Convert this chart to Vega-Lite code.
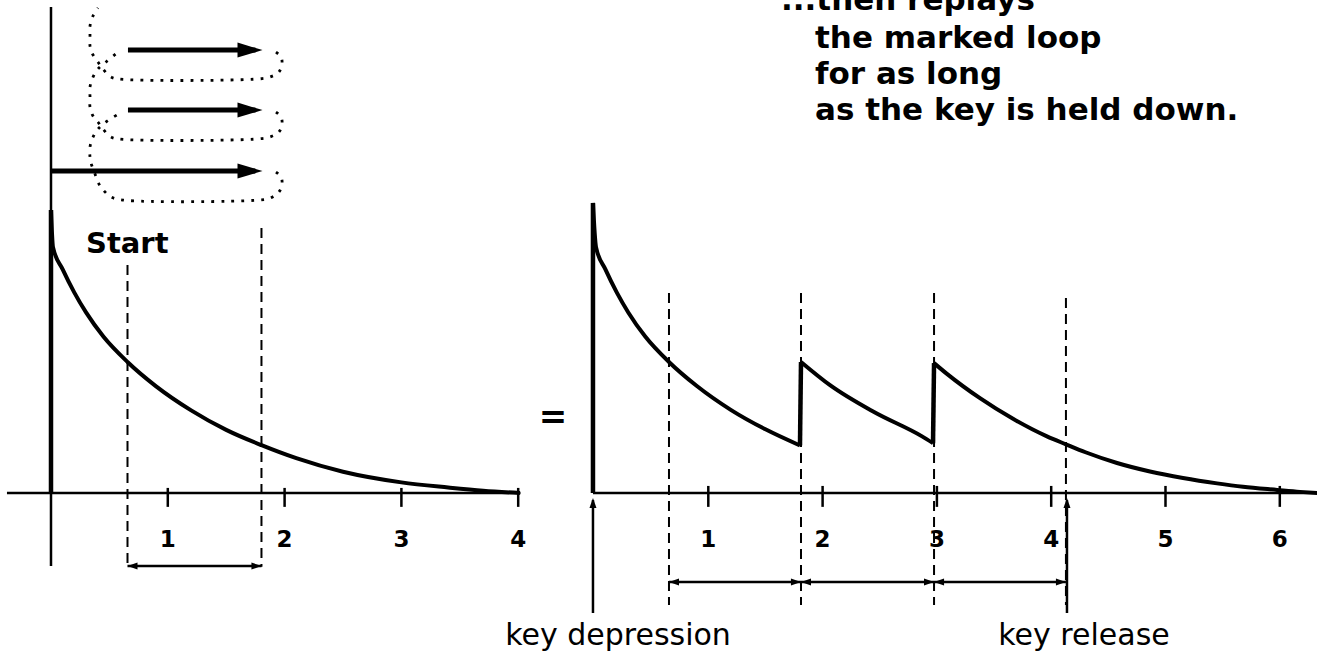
{
  "$schema": "https://vega.github.io/schema/vega-lite/v6.json",
  "width": 1317,
  "height": 655,
  "autosize": "none",
  "padding": 0,
  "background": "white",
  "config": {"view": {"stroke": null}},
  "datasets": {
    "leftAxes": [
      {"t": 0, "a": -0.258, "t2": 0, "a2": 1.717},
      {"t": -0.377, "a": 0, "t2": 4.02, "a2": 0},
      {"t": 1, "a": 0.018, "t2": 1, "a2": -0.049},
      {"t": 2, "a": 0.018, "t2": 2, "a2": -0.049},
      {"t": 3, "a": 0.018, "t2": 3, "a2": -0.049},
      {"t": 4, "a": 0.018, "t2": 4, "a2": -0.049},
      {"t": 0.655, "a": -0.258, "t2": 1.802, "a2": -0.258}
    ],
    "leftRise": [{"t": 0, "a": 0, "t2": 0, "a2": 1.0}],
    "leftDashes": [
      {"t": 0.655, "a": 0.806, "t2": 0.655, "a2": -0.261},
      {"t": 1.802, "a": 0.936, "t2": 1.802, "a2": -0.261}
    ],
    "leftDecay": [
      {"t": 0, "a": 1.0}, {"t": 0.017, "a": 0.869}, {"t": 0.1, "a": 0.79},
      {"t": 0.2, "a": 0.708}, {"t": 0.3, "a": 0.638}, {"t": 0.45, "a": 0.552},
      {"t": 0.655, "a": 0.463}, {"t": 0.9, "a": 0.377}, {"t": 1.2, "a": 0.292},
      {"t": 1.5, "a": 0.223}, {"t": 1.802, "a": 0.169}, {"t": 2.1, "a": 0.123},
      {"t": 2.5, "a": 0.075}, {"t": 3.0, "a": 0.0375}, {"t": 3.4, "a": 0.0195},
      {"t": 3.7, "a": 0.008}, {"t": 4.015, "a": 0}
    ],
    "leftHeadsL": [{"t": 0.698, "a": -0.258}],
    "leftHeadsR": [{"t": 1.759, "a": -0.258}],
    "loopShafts": [
      {"t": 0.659, "a": 1.565, "t2": 1.75, "a2": 1.565},
      {"t": 0.659, "a": 1.353, "t2": 1.75, "a2": 1.353},
      {"t": 0, "a": 1.138, "t2": 1.75, "a2": 1.138}
    ],
    "loopHeads": [
      {"t": 1.704, "a": 1.565}, {"t": 1.704, "a": 1.353}, {"t": 1.704, "a": 1.138}
    ],
    "loopDots": [
      {"path": "A", "i": 0, "t": 1.926, "a": 1.134},
      {"path": "A", "i": 1, "t": 1.969, "a": 1.117},
      {"path": "A", "i": 2, "t": 1.978, "a": 1.092},
      {"path": "A", "i": 3, "t": 1.952, "a": 1.064},
      {"path": "A", "i": 4, "t": 1.875, "a": 1.042},
      {"path": "A", "i": 5, "t": 1.772, "a": 1.035},
      {"path": "A", "i": 6, "t": 0.616, "a": 1.035},
      {"path": "A", "i": 7, "t": 0.514, "a": 1.046},
      {"path": "A", "i": 8, "t": 0.462, "a": 1.064},
      {"path": "A", "i": 9, "t": 0.428, "a": 1.081},
      {"path": "A", "i": 10, "t": 0.402, "a": 1.099},
      {"path": "A", "i": 11, "t": 0.368, "a": 1.138},
      {"path": "A", "i": 12, "t": 0.342, "a": 1.166},
      {"path": "A", "i": 13, "t": 0.334, "a": 1.187},
      {"path": "A", "i": 14, "t": 0.334, "a": 1.223},
      {"path": "A", "i": 15, "t": 0.36, "a": 1.258},
      {"path": "A", "i": 16, "t": 0.402, "a": 1.286},
      {"path": "A", "i": 17, "t": 0.471, "a": 1.311},
      {"path": "A", "i": 18, "t": 0.565, "a": 1.336},
      {"path": "B", "i": 0, "t": 1.926, "a": 1.346},
      {"path": "B", "i": 1, "t": 1.969, "a": 1.329},
      {"path": "B", "i": 2, "t": 1.978, "a": 1.304},
      {"path": "B", "i": 3, "t": 1.952, "a": 1.276},
      {"path": "B", "i": 4, "t": 1.875, "a": 1.258},
      {"path": "B", "i": 5, "t": 1.772, "a": 1.251},
      {"path": "B", "i": 6, "t": 0.574, "a": 1.251},
      {"path": "B", "i": 7, "t": 0.514, "a": 1.258},
      {"path": "B", "i": 8, "t": 0.445, "a": 1.286},
      {"path": "B", "i": 9, "t": 0.402, "a": 1.311},
      {"path": "B", "i": 10, "t": 0.36, "a": 1.332},
      {"path": "B", "i": 11, "t": 0.334, "a": 1.364},
      {"path": "B", "i": 12, "t": 0.334, "a": 1.399},
      {"path": "B", "i": 13, "t": 0.334, "a": 1.435},
      {"path": "B", "i": 14, "t": 0.36, "a": 1.47},
      {"path": "B", "i": 15, "t": 0.402, "a": 1.498},
      {"path": "B", "i": 16, "t": 0.471, "a": 1.523},
      {"path": "B", "i": 17, "t": 0.565, "a": 1.555},
      {"path": "C", "i": 0, "t": 1.926, "a": 1.558},
      {"path": "C", "i": 1, "t": 1.969, "a": 1.541},
      {"path": "C", "i": 2, "t": 1.978, "a": 1.519},
      {"path": "C", "i": 3, "t": 1.952, "a": 1.488},
      {"path": "C", "i": 4, "t": 1.875, "a": 1.47},
      {"path": "C", "i": 5, "t": 1.772, "a": 1.463},
      {"path": "C", "i": 6, "t": 0.574, "a": 1.463},
      {"path": "C", "i": 7, "t": 0.514, "a": 1.47},
      {"path": "C", "i": 8, "t": 0.445, "a": 1.498},
      {"path": "C", "i": 9, "t": 0.402, "a": 1.523},
      {"path": "C", "i": 10, "t": 0.351, "a": 1.555},
      {"path": "C", "i": 11, "t": 0.334, "a": 1.58},
      {"path": "C", "i": 12, "t": 0.334, "a": 1.618},
      {"path": "C", "i": 13, "t": 0.334, "a": 1.65},
      {"path": "C", "i": 14, "t": 0.36, "a": 1.686},
      {"path": "C", "i": 15, "t": 0.402, "a": 1.714}
    ],
    "leftLabels": [
      {"t": 1, "a": -0.166, "label": "1"},
      {"t": 2, "a": -0.166, "label": "2"},
      {"t": 3, "a": -0.166, "label": "3"},
      {"t": 4, "a": -0.166, "label": "4"}
    ],
    "startLabel": [{"t": 0.3, "a": 0.848, "label": "Start"}],
    "rightAxes": [
      {"t": -0.009, "a": 0, "t2": 6.33, "a2": 0},
      {"t": 1, "a": 0.025, "t2": 1, "a2": -0.049},
      {"t": 2, "a": 0.025, "t2": 2, "a2": -0.049},
      {"t": 3, "a": 0.025, "t2": 3, "a2": -0.049},
      {"t": 4, "a": 0.025, "t2": 4, "a2": -0.049},
      {"t": 5, "a": 0.025, "t2": 5, "a2": -0.049},
      {"t": 6, "a": 0.025, "t2": 6, "a2": -0.049},
      {"t": 0.656, "a": -0.3145, "t2": 1.811, "a2": -0.3145},
      {"t": 1.811, "a": -0.3145, "t2": 2.975, "a2": -0.3145},
      {"t": 2.975, "a": -0.3145, "t2": 4.129, "a2": -0.3145},
      {"t": -0.009, "a": -0.424, "t2": -0.009, "a2": -0.025},
      {"t": 4.138, "a": -0.424, "t2": 4.138, "a2": -0.025}
    ],
    "rightThick": [
      {"t": -0.009, "a": 0, "t2": -0.009, "a2": 1.025},
      {"t": 1.802, "a": 0.168, "t2": 1.811, "a2": 0.463},
      {"t": 2.966, "a": 0.176, "t2": 2.975, "a2": 0.459}
    ],
    "rightDashes": [
      {"t": 0.656, "a": 0.707, "t2": 0.656, "a2": -0.396},
      {"t": 1.811, "a": 0.707, "t2": 1.811, "a2": -0.396},
      {"t": 2.975, "a": 0.707, "t2": 2.975, "a2": -0.396},
      {"t": 4.129, "a": 0.689, "t2": 4.129, "a2": -0.396}
    ],
    "rightDecay": [
      {"seg": 1, "t": -0.009, "a": 1.025}, {"seg": 1, "t": 0.0175, "a": 0.869},
      {"seg": 1, "t": 0.1, "a": 0.79}, {"seg": 1, "t": 0.2, "a": 0.708},
      {"seg": 1, "t": 0.3, "a": 0.638}, {"seg": 1, "t": 0.45, "a": 0.552},
      {"seg": 1, "t": 0.656, "a": 0.463}, {"seg": 1, "t": 0.9, "a": 0.378},
      {"seg": 1, "t": 1.2, "a": 0.293}, {"seg": 1, "t": 1.5, "a": 0.225},
      {"seg": 1, "t": 1.802, "a": 0.168},
      {"seg": 2, "t": 1.811, "a": 0.463}, {"seg": 2, "t": 2.065, "a": 0.381},
      {"seg": 2, "t": 2.45, "a": 0.286}, {"seg": 2, "t": 2.87, "a": 0.2},
      {"seg": 2, "t": 2.966, "a": 0.176},
      {"seg": 3, "t": 2.975, "a": 0.459}, {"seg": 3, "t": 3.088, "a": 0.421},
      {"seg": 3, "t": 3.377, "a": 0.335}, {"seg": 3, "t": 3.666, "a": 0.262},
      {"seg": 3, "t": 3.963, "a": 0.2}, {"seg": 3, "t": 4.129, "a": 0.172},
      {"seg": 3, "t": 4.3, "a": 0.144}, {"seg": 3, "t": 4.576, "a": 0.106},
      {"seg": 3, "t": 4.864, "a": 0.076}, {"seg": 3, "t": 5.153, "a": 0.053},
      {"seg": 3, "t": 5.451, "a": 0.034}, {"seg": 3, "t": 5.678, "a": 0.022},
      {"seg": 3, "t": 5.976, "a": 0.011}, {"seg": 3, "t": 6.177, "a": 0.004},
      {"seg": 3, "t": 6.33, "a": 0}
    ],
    "rightHeadsL": [
      {"t": 0.7, "a": -0.3145}, {"t": 1.855, "a": -0.3145}, {"t": 3.019, "a": -0.3145}
    ],
    "rightHeadsR": [
      {"t": 1.767, "a": -0.3145}, {"t": 2.931, "a": -0.3145}, {"t": 4.085, "a": -0.3145}
    ],
    "rightHeadsUp": [
      {"t": -0.009, "a": -0.035}, {"t": 4.138, "a": -0.035}
    ],
    "rightLabels": [
      {"t": 1, "a": -0.166, "label": "1"},
      {"t": 2, "a": -0.166, "label": "2"},
      {"t": 3, "a": -0.166, "label": "3"},
      {"t": 4, "a": -0.166, "label": "4"},
      {"t": 5, "a": -0.166, "label": "5"},
      {"t": 6, "a": -0.166, "label": "6"}
    ],
    "keyLabels": [
      {"t": 0.21, "a": -0.537, "label": "key depression"},
      {"t": 4.287, "a": -0.537, "label": "key release"}
    ],
    "topText": [
      {"t": 1.636, "a": 1.707, "label": "...then replays"},
      {"t": 1.934, "a": 1.572, "label": "the marked loop"},
      {"t": 1.934, "a": 1.445, "label": "for as long"},
      {"t": 1.934, "a": 1.318, "label": "as the key is held down."}
    ],
    "equalsSign": [{"t": -0.359, "a": 0.265, "label": "="}]
  },
  "layer": [
    {
      "encoding": {
        "x": {"field": "t", "type": "quantitative", "scale": {"domain": [-0.4366, 10.839], "nice": false, "zero": false}, "axis": null},
        "y": {"field": "a", "type": "quantitative", "scale": {"domain": [-0.5724, 1.742], "nice": false, "zero": false}, "axis": null}
      },
      "layer": [
        {"data": {"name": "leftAxes"}, "mark": {"type": "rule", "color": "black", "strokeWidth": 2.5},
         "encoding": {"x2": {"field": "t2"}, "y2": {"field": "a2"}}},
        {"data": {"name": "leftRise"}, "mark": {"type": "rule", "color": "black", "strokeWidth": 4.5},
         "encoding": {"x2": {"field": "t2"}, "y2": {"field": "a2"}}},
        {"data": {"name": "leftDashes"}, "mark": {"type": "rule", "color": "black", "strokeWidth": 2, "strokeDash": [10, 6]},
         "encoding": {"x2": {"field": "t2"}, "y2": {"field": "a2"}}},
        {"data": {"name": "leftDecay"}, "mark": {"type": "line", "color": "black", "strokeWidth": 4, "interpolate": "monotone"},
         "encoding": {}},
        {"data": {"name": "leftHeadsL"}, "mark": {"type": "point", "shape": "M1,-0.7L-1,0L1,0.7Z", "size": 100, "filled": true, "color": "black", "opacity": 1, "strokeWidth": 0}},
        {"data": {"name": "leftHeadsR"}, "mark": {"type": "point", "shape": "M-1,-0.7L1,0L-1,0.7Z", "size": 100, "filled": true, "color": "black", "opacity": 1, "strokeWidth": 0}},
        {"data": {"name": "loopShafts"}, "mark": {"type": "rule", "color": "black", "strokeWidth": 5},
         "encoding": {"x2": {"field": "t2"}, "y2": {"field": "a2"}}},
        {"data": {"name": "loopHeads"}, "mark": {"type": "point", "shape": "M-1,-0.6L1,0L-1,0.6Z", "size": 625, "filled": true, "color": "black", "opacity": 1, "strokeWidth": 0}},
        {"data": {"name": "loopDots"}, "mark": {"type": "line", "color": "black", "strokeWidth": 2.8, "strokeDash": [2.8, 7.2], "interpolate": "catmull-rom"},
         "encoding": {"detail": {"field": "path"}, "order": {"field": "i", "type": "quantitative"}}},
        {"data": {"name": "leftLabels"}, "mark": {"type": "text", "font": "DejaVu Sans", "fontWeight": "bold", "fontSize": 23, "align": "center", "baseline": "middle", "color": "black"},
         "encoding": {"text": {"field": "label"}}},
        {"data": {"name": "startLabel"}, "mark": {"type": "text", "font": "DejaVu Sans", "fontWeight": "bold", "fontSize": 29, "align": "left", "baseline": "alphabetic", "color": "black"},
         "encoding": {"text": {"field": "label"}}}
      ]
    },
    {
      "encoding": {
        "x": {"field": "t", "type": "quantitative", "scale": {"domain": [-5.1969, 6.3255], "nice": false, "zero": false}, "axis": null},
        "y": {"field": "a", "type": "quantitative", "scale": {"domain": [-0.5724, 1.742], "nice": false, "zero": false}, "axis": null}
      },
      "layer": [
        {"data": {"name": "rightAxes"}, "mark": {"type": "rule", "color": "black", "strokeWidth": 2.5},
         "encoding": {"x2": {"field": "t2"}, "y2": {"field": "a2"}}},
        {"data": {"name": "rightThick"}, "mark": {"type": "rule", "color": "black", "strokeWidth": 4.5},
         "encoding": {"x2": {"field": "t2"}, "y2": {"field": "a2"}}},
        {"data": {"name": "rightDashes"}, "mark": {"type": "rule", "color": "black", "strokeWidth": 2, "strokeDash": [10, 6]},
         "encoding": {"x2": {"field": "t2"}, "y2": {"field": "a2"}}},
        {"data": {"name": "rightDecay"}, "mark": {"type": "line", "color": "black", "strokeWidth": 4, "interpolate": "monotone"},
         "encoding": {"detail": {"field": "seg"}}},
        {"data": {"name": "rightHeadsL"}, "mark": {"type": "point", "shape": "M1,-0.7L-1,0L1,0.7Z", "size": 100, "filled": true, "color": "black", "opacity": 1, "strokeWidth": 0}},
        {"data": {"name": "rightHeadsR"}, "mark": {"type": "point", "shape": "M-1,-0.7L1,0L-1,0.7Z", "size": 100, "filled": true, "color": "black", "opacity": 1, "strokeWidth": 0}},
        {"data": {"name": "rightHeadsUp"}, "mark": {"type": "point", "shape": "M-0.7,1L0,-1L0.7,1Z", "size": 100, "filled": true, "color": "black", "opacity": 1, "strokeWidth": 0}},
        {"data": {"name": "rightLabels"}, "mark": {"type": "text", "font": "DejaVu Sans", "fontWeight": "bold", "fontSize": 23, "align": "center", "baseline": "middle", "color": "black"},
         "encoding": {"text": {"field": "label"}}},
        {"data": {"name": "keyLabels"}, "mark": {"type": "text", "font": "DejaVu Sans", "fontSize": 30, "align": "center", "baseline": "alphabetic", "color": "black"},
         "encoding": {"text": {"field": "label"}}},
        {"data": {"name": "topText"}, "mark": {"type": "text", "font": "DejaVu Sans", "fontWeight": "bold", "fontSize": 31, "align": "left", "baseline": "alphabetic", "color": "black"},
         "encoding": {"text": {"field": "label"}}},
        {"data": {"name": "equalsSign"}, "mark": {"type": "text", "font": "DejaVu Sans", "fontWeight": "bold", "fontSize": 34, "align": "center", "baseline": "middle", "color": "black"},
         "encoding": {"text": {"field": "label"}}}
      ]
    }
  ],
  "resolve": {"scale": {"x": "independent", "y": "independent"}}
}
